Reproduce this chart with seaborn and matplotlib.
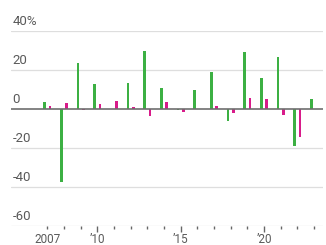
import matplotlib
matplotlib.use("Agg")
import matplotlib.pyplot as plt
import seaborn as sns
import pandas as pd
from matplotlib import font_manager

years = list(range(2007, 2024))
green_vals = [3.5, -37.6, 23.7, 12.7, 0.0, 13.2, 29.5, 11.0, -0.5, 9.5, 19.2, -6.0, 29.0, 16.0, 26.8, -18.8, 5.3]
magenta_vals = [1.5, 3.0, -0.5, 2.5, 4.3, 1.0, -3.8, 3.6, -1.7, 0.0, 1.4, -2.2, 5.8, 5.3, -3.3, -14.5, 0.0]
series_names = ["A", "B"]
colors = ["#3cb043", "#d81b8a"]
y_ticks = [40, 20, 0, -20, -40, -60]
y_labels = ["40%", "20", "0", "-20", "-40", "-60"]
x_major = [2007, 2010, 2015, 2020]
x_labels = ["2007", "\u201910", "\u201915", "\u201920"]

df = pd.DataFrame({
    "year": years * 2,
    "value": green_vals + magenta_vals,
    "series": [series_names[0]] * len(years) + [series_names[1]] * len(years),
})

sns.set_style("white")
avail = {f.name for f in font_manager.fontManager.ttflist}
fam = "Liberation Sans Narrow" if "Liberation Sans Narrow" in avail else "Roboto"
plt.rcParams["font.family"] = [fam, "DejaVu Sans"]

fig = plt.figure(figsize=(3.26, 2.45), dpi=100)
W, H = 326, 245
left, right, top, bottom = 11, 323, 31, 226
ax = fig.add_axes([left / W, 1 - bottom / H, (right - left) / W, (bottom - top) / H])

sns.barplot(data=df, x="year", y="value", hue="series", native_scale=True,
            palette=colors, width=0.64, gap=0.45, ax=ax, legend=False,
            errorbar=None, saturation=1, linewidth=0)

ax.set_ylim(-60, 40)
ax.set_xlim(2004.82, 2023.54)
for s in ax.spines.values():
    s.set_visible(False)
for t in y_ticks:
    if t == 0:
        ax.axhline(0, color="#6e6e6e", lw=1.2, zorder=3)
    else:
        ax.axhline(t, color="#dedede", lw=0.9, zorder=0)
ax.set_yticks([])
ax.set_ylabel("")
ax.set_xlabel("")
for t, lab in zip(y_ticks, y_labels):
    ax.annotate(lab, xy=(0, t), xycoords=("axes fraction", "data"),
                xytext=(1, 2.5), textcoords="offset points",
                ha="left", va="bottom", fontsize=9.5, color="#5a5a5a")

ax.set_xticks(x_major)
ax.set_xticklabels(x_labels, fontsize=8.5, color="#5a5a5a")
ax.set_xticks(years, minor=True)
ax.tick_params(axis="x", which="major", length=4, width=1, color="#666666",
               pad=1, direction="out", bottom=True)
ax.tick_params(axis="x", which="minor", length=2, width=1, color="#666666",
               direction="out", bottom=True)
ax.xaxis.get_major_ticks()[0].tick1line.set_markersize(2)

fig.savefig("out.png", dpi=100)
